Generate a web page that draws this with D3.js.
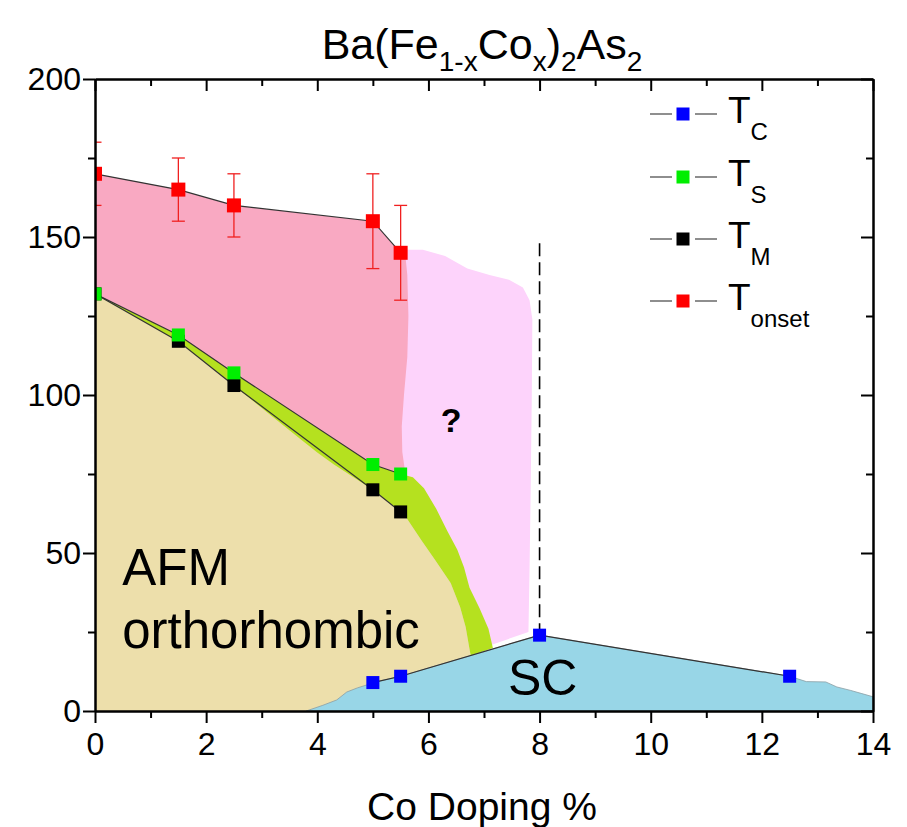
<!DOCTYPE html>
<html>
<head>
<meta charset="utf-8">
<script src="https://cdn.jsdelivr.net/npm/d3@7"></script>
<style>
  body { margin: 0; background: #fff; }
  svg { display: block; }
  text { font-family: "Liberation Sans", Arial, Helvetica, sans-serif; fill: #000; }
</style>
</head>
<body>
<svg id="chart" width="907" height="827"></svg>
<script>
// ---- measured transition temperatures (K) vs Co doping (%) ----
const onsetX = [0, 1.5, 2.5, 5, 5.5];
const onsetT = [170, 165, 160, 155, 145];
const onsetErr = [10, 10, 10, 15, 15];

const tsX = [0, 1.5, 2.5, 5, 5.5];
const tsT = [132, 119, 107, 78, 75];

const tmX = [0, 1.5, 2.5, 5, 5.5];
const tmT = [132, 117, 103, 70, 63];

const tcX = [5, 5.5, 8, 12.5];
const tcT = [9, 11, 24, 11];

// ---- axis ticks ----
const xMajor = [0, 2, 4, 6, 8, 10, 12, 14];
const xMinor = [1, 3, 5, 7, 9, 11, 13];
const yMajor = [0, 50, 100, 150, 200];
const yMinor = [25, 75, 125, 175];

// ---- hand-drawn phase boundaries, [doping, T] ----
const onsetRightEdge = [[5.58, 145], [5.62, 138], [5.64, 125], [5.62, 112], [5.56, 100], [5.52, 90], [5.53, 82], [5.57, 77]];
const unknownRegion = [[5.5, 146], [5.9, 146], [6.3, 144], [6.7, 140], [7.1, 138], [7.45, 136.5], [7.7, 134],
  [7.82, 130], [7.87, 124], [7.86, 100], [7.84, 70], [7.82, 45], [7.8, 25], [5.5, 11]];
const nematicRightEdge = [[5.72, 74], [5.92, 70.5], [6.14, 64], [6.34, 57], [6.52, 51], [6.64, 45.5], [6.74, 39],
  [6.92, 32.5], [7.08, 26], [7.16, 19.9]];
const nematicBulge = [[4.3, 78], [4.0, 81.8], [3.7, 86]];
const afmRightEdge = [[6.76, 17.5], [6.67, 26.6], [6.57, 32.9], [6.4, 40.5], [6.12, 47.8], [5.87, 54.1], [5.6, 61.2]];
const scLeftEdge = [[3.8, 0], [4.1, 1.8], [4.35, 3.5], [4.53, 6], [4.72, 7.3], [4.9, 8.3]];
const scRightEdge = [[12.8, 9.3], [13.15, 9.2], [13.35, 7.6], [13.6, 6.5], [13.8, 5.5], [14, 4.5], [14, 0]];
const boundaryX = 8, boundaryTop = 148;

const legendItems = [
  { sym: "T", sub: "C", color: "#0000ff" },
  { sym: "T", sub: "S", color: "#00ee00" },
  { sym: "T", sub: "M", color: "#000000" },
  { sym: "T", sub: "onset", color: "#ff0000" }
];

// ---- layout ----
const svg = d3.select("#chart");
const plot = { left: 95, right: 873, top: 79, bottom: 711 };
const x = d3.scaleLinear().domain([0, 14]).range([plot.left, plot.right]);
const y = d3.scaleLinear().domain([0, 200]).range([plot.bottom, plot.top]);

const pts = (xs, ts) => xs.map((v, i) => [v, ts[i]]);
const onsetPts = pts(onsetX, onsetT);
const tsPts = pts(tsX, tsT);
const tmPts = pts(tmX, tmT);
const tcPts = pts(tcX, tcT);

svg.append("defs").append("clipPath").attr("id", "plotClip")
  .append("rect").attr("x", plot.left).attr("y", plot.top)
  .attr("width", plot.right - plot.left).attr("height", plot.bottom - plot.top);

const area = d3.line().x(d => x(d[0])).y(d => y(d[1]));
const g = svg.append("g").attr("clip-path", "url(#plotClip)");

// phase regions
g.append("path").attr("d", area(unknownRegion) + "Z").attr("fill", "#fdd3fb");
g.append("path").attr("d", area([...onsetPts, ...onsetRightEdge, ...tsPts.slice().reverse()]) + "Z").attr("fill", "#f9a9c2");
g.append("path").attr("d", area([[0, 0], ...tmPts, ...afmRightEdge.slice().reverse(), [6.76, 0]]) + "Z").attr("fill", "#eddfab");
const tmLower = [tmPts[4], tmPts[3], ...nematicBulge, tmPts[2], tmPts[1], tmPts[0]];
g.append("path").attr("d", area([...tsPts, ...nematicRightEdge, ...afmRightEdge, ...tmLower]) + "Z").attr("fill", "#b5e11f");
g.append("path").attr("d", area([...scLeftEdge, ...tcPts, ...scRightEdge]) + "Z")
  .attr("fill", "#98d6e7").attr("stroke", "#8a9ea4").attr("stroke-width", 0.8);

// region labels
g.append("text").attr("x", x(0.49)).attr("y", y(39.9)).attr("font-size", 51).text("AFM");
g.append("text").attr("x", x(0.49)).attr("y", y(19.9)).attr("font-size", 51).text("orthorhombic");
g.append("text").attr("x", x(7.43)).attr("y", y(5.1)).attr("font-size", 50).text("SC");
g.append("text").attr("x", x(6.41)).attr("y", y(88.3)).attr("font-size", 34).attr("font-weight", "bold")
  .attr("text-anchor", "middle").text("?");

// vertical dashed boundary at optimal doping
g.append("line").attr("x1", x(boundaryX)).attr("x2", x(boundaryX))
  .attr("y1", y(boundaryTop)).attr("y2", y(tcT[2]))
  .attr("stroke", "#000").attr("stroke-width", 1.6).attr("stroke-dasharray", "13,6");

// connecting lines
const link = d3.line().x(d => x(d[0])).y(d => y(d[1]));
[onsetPts, tsPts, tmPts, tcPts].forEach(p => {
  g.append("path").attr("d", link(p)).attr("fill", "none").attr("stroke", "#333").attr("stroke-width", 1.2);
});

// error bars on onset
onsetPts.forEach((d, i) => {
  const e = onsetErr[i];
  const eg = g.append("g").attr("stroke", "#f02020").attr("stroke-width", 1.3);
  eg.append("line").attr("x1", x(d[0])).attr("x2", x(d[0])).attr("y1", y(d[1] - e)).attr("y2", y(d[1] + e));
  [d[1] - e, d[1] + e].forEach(v => {
    eg.append("line").attr("x1", x(d[0]) - 6.5).attr("x2", x(d[0]) + 6.5).attr("y1", y(v)).attr("y2", y(v));
  });
});

// markers
function squares(p, color, s) {
  g.selectAll(null).data(p).enter().append("rect")
    .attr("x", d => x(d[0]) - s / 2).attr("y", d => y(d[1]) - s / 2)
    .attr("width", s).attr("height", s).attr("fill", color);
}
squares(tmPts, "#000", 13);
squares(tsPts, "#00ee00", 13);
squares(onsetPts, "#ff0000", 14);
squares(tcPts, "#0000ff", 13);

// ---- axes ----
function styleAxis(sel) {
  sel.selectAll(".domain").attr("stroke", "#000").attr("stroke-width", 2);
  sel.selectAll(".tick line").attr("stroke", "#000").attr("stroke-width", 2);
  sel.selectAll("text").attr("font-size", 32).attr("font-family", '"Liberation Sans", Arial, sans-serif');
}
const ax = svg.append("g");
ax.append("g").attr("transform", `translate(0,${plot.bottom})`)
  .call(d3.axisBottom(x).tickValues(xMinor).tickSize(7).tickSizeOuter(0).tickFormat("")).call(styleAxis);
ax.append("g").attr("transform", `translate(0,${plot.bottom})`)
  .call(d3.axisBottom(x).tickValues(xMajor).tickSize(12).tickSizeOuter(0).tickPadding(9)).call(styleAxis);
ax.append("g").attr("transform", `translate(0,${plot.top})`)
  .call(d3.axisBottom(x).tickValues(xMinor).tickSize(7).tickSizeOuter(0).tickFormat("")).call(styleAxis);
ax.append("g").attr("transform", `translate(0,${plot.top})`)
  .call(d3.axisBottom(x).tickValues(xMajor).tickSize(12).tickSizeOuter(0).tickFormat("")).call(styleAxis);

ax.append("g").attr("transform", `translate(${plot.left},0)`)
  .call(d3.axisLeft(y).tickValues(yMinor).tickSize(7).tickSizeOuter(0).tickFormat("")).call(styleAxis);
ax.append("g").attr("transform", `translate(${plot.left},0)`)
  .call(d3.axisLeft(y).tickValues(yMajor).tickSize(12).tickSizeOuter(0).tickPadding(2)).call(styleAxis);
ax.append("g").attr("transform", `translate(${plot.right},0)`)
  .call(d3.axisLeft(y).tickValues(yMinor).tickSize(7).tickSizeOuter(0).tickFormat("")).call(styleAxis);
ax.append("g").attr("transform", `translate(${plot.right},0)`)
  .call(d3.axisLeft(y).tickValues(yMajor).tickSize(12).tickSizeOuter(0).tickFormat("")).call(styleAxis);

// axis title
svg.append("text").attr("x", 482).attr("y", 820).attr("text-anchor", "middle")
  .attr("font-size", 39).text("Co Doping %");

// chart title with subscripts
const title = svg.append("text").attr("x", 482).attr("y", 59).attr("text-anchor", "middle").attr("font-size", 43);
const subSize = 28, subShift = 12;
[["Ba(Fe", 0], ["1-x", 1], ["Co", 0], ["x", 1], [")", 0], ["2", 1], ["As", 0], ["2", 1]].forEach((p, i, arr) => {
  const prevSub = i > 0 && arr[i - 1][1] === 1;
  const t = title.append("tspan").text(p[0]);
  if (p[1] === 1) t.attr("font-size", subSize).attr("dy", prevSub ? 0 : subShift);
  else if (prevSub) t.attr("dy", -subShift);
});

// ---- legend ----
const legendRowY = [114, 177, 239, 301];
const lg = svg.append("g");
legendItems.forEach((d, i) => {
  const cy = legendRowY[i];
  lg.append("line").attr("x1", 650).attr("x2", 672).attr("y1", cy).attr("y2", cy).attr("stroke", "#444").attr("stroke-width", 1.2);
  lg.append("line").attr("x1", 695).attr("x2", 717).attr("y1", cy).attr("y2", cy).attr("stroke", "#444").attr("stroke-width", 1.2);
  lg.append("rect").attr("x", 683 - 6.5).attr("y", cy - 6.5).attr("width", 13).attr("height", 13).attr("fill", d.color);
  const t = lg.append("text").attr("x", 728).attr("y", cy + 9).attr("font-size", 37);
  t.append("tspan").text(d.sym);
  t.append("tspan").attr("font-size", 24).attr("dy", 17).text(d.sub);
});
</script>
</body>
</html>
